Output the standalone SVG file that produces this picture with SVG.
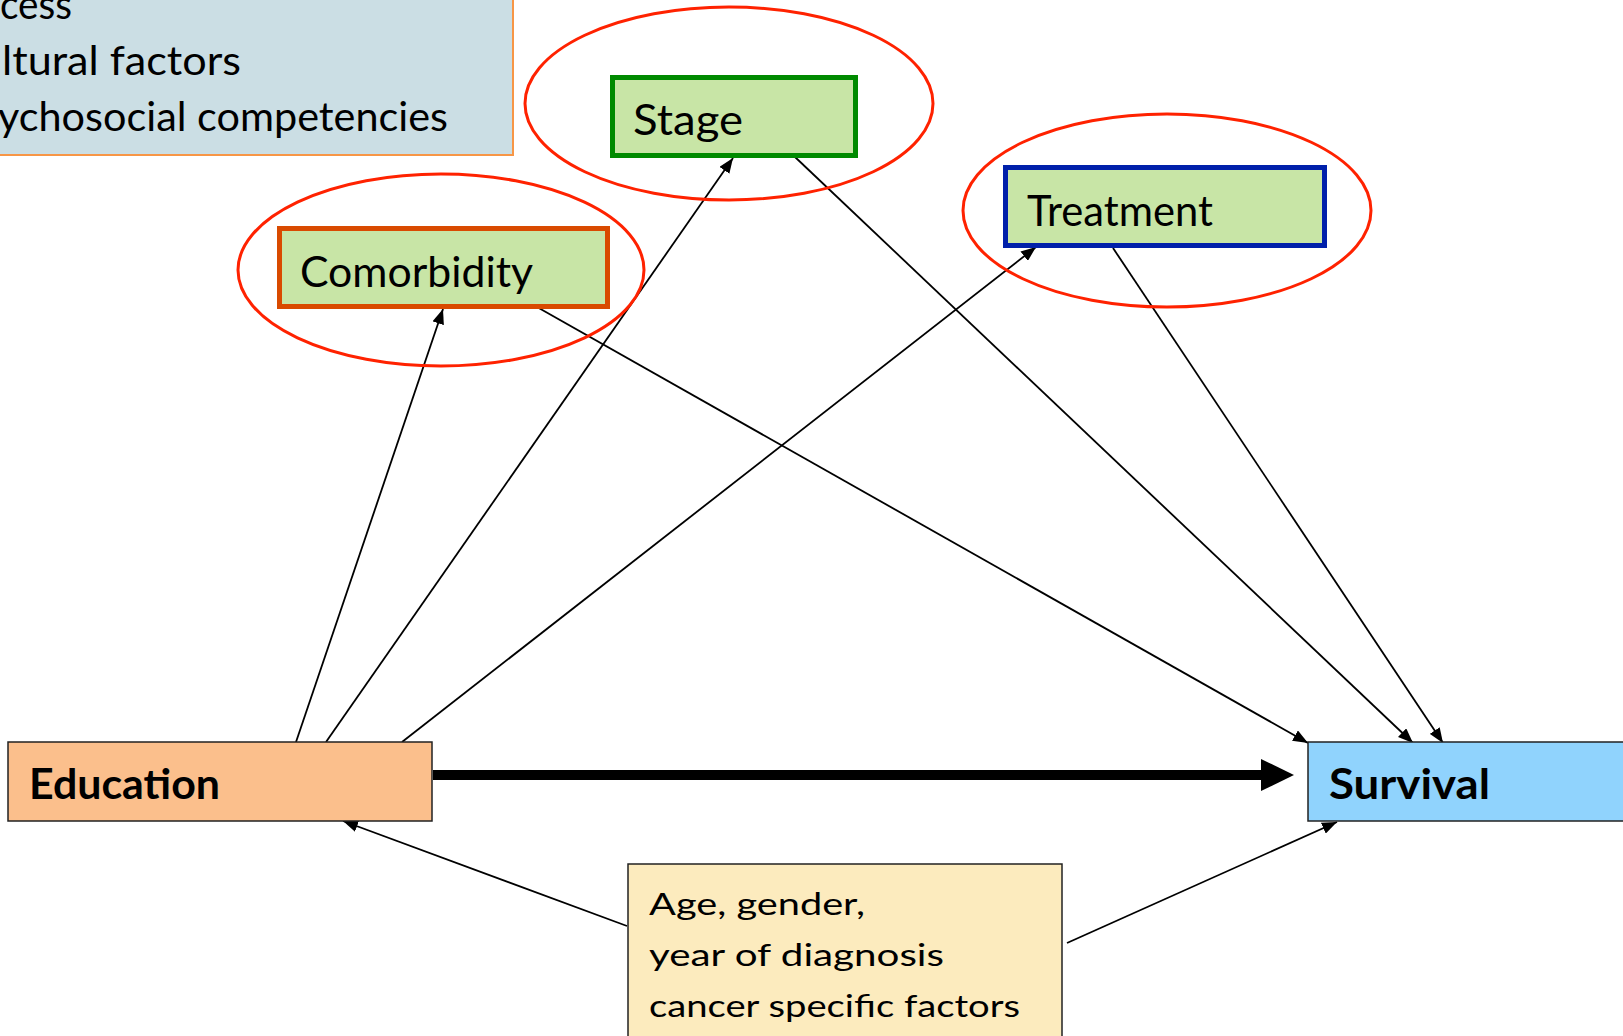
<svg xmlns="http://www.w3.org/2000/svg" width="1623" height="1036" viewBox="0 0 1623 1036">
<style>
.t{font-family:"Lato","Liberation Sans",sans-serif;fill:#000}
.n{font-size:42px}
.b{font-size:42px;font-weight:bold}
.c{font-size:31px}
.l{font-size:40px}
.ell{fill:none;stroke:#FF2200;stroke-width:3}
.box{fill:#C8E5A6;stroke-width:5}
.ln{stroke:#000;stroke-width:1.8;fill:none}
</style>
<defs>
<marker id="ah" markerUnits="userSpaceOnUse" markerWidth="16" markerHeight="12" refX="15" refY="6" orient="auto">
<path d="M0,0 L15,6 L0,12 z" fill="#000"/>
</marker>
<marker id="big" markerUnits="userSpaceOnUse" markerWidth="34" markerHeight="32" refX="1" refY="16" orient="auto">
<path d="M0,0 L33,16 L0,32 z" fill="#000"/>
</marker>
</defs>
<rect width="1623" height="1036" fill="#fff"/>

<g id="legend">
<rect x="-5" y="-5" width="518" height="160" fill="#CBDEE4" stroke="#F79646" stroke-width="2"/>
<text class="t l" x="0" y="19" textLength="72" lengthAdjust="spacingAndGlyphs">cess</text>
<text class="t l" x="2" y="75" textLength="239" lengthAdjust="spacingAndGlyphs">ltural factors</text>
<text class="t l" x="-2" y="131" textLength="450" lengthAdjust="spacingAndGlyphs">ychosocial competencies</text>
</g>

<g id="connectors">
<line class="ln" x1="296" y1="742" x2="443" y2="309" marker-end="url(#ah)"/>
<line class="ln" x1="326" y1="742" x2="733" y2="158" marker-end="url(#ah)"/>
<line class="ln" x1="402" y1="742" x2="1036" y2="247" marker-end="url(#ah)"/>
<line class="ln" x1="537" y1="307" x2="1308" y2="743" marker-end="url(#ah)"/>
<line class="ln" x1="795" y1="157" x2="1413" y2="743" marker-end="url(#ah)"/>
<line class="ln" x1="1113" y1="248" x2="1443" y2="743" marker-end="url(#ah)"/>
<line class="ln" x1="627" y1="926" x2="343" y2="821" marker-end="url(#ah)"/>
<line class="ln" x1="1067" y1="943" x2="1337" y2="822" marker-end="url(#ah)"/>
<line x1="433" y1="775" x2="1262" y2="775" stroke="#000" stroke-width="10" marker-end="url(#big)"/>
</g>

<g id="comorbidity">
<ellipse class="ell" cx="441" cy="270" rx="203" ry="96"/>
<rect class="box" x="279.5" y="228.5" width="328" height="78" stroke="#D94A00"/>
<text class="t n" x="300" y="287" textLength="233" lengthAdjust="spacingAndGlyphs">Comorbidity</text>
</g>

<g id="stage">
<ellipse class="ell" cx="729" cy="103.5" rx="204" ry="96.5"/>
<rect class="box" x="612.5" y="77.5" width="243" height="78" stroke="#008A00"/>
<text class="t n" x="633" y="135" textLength="110" lengthAdjust="spacingAndGlyphs">Stage</text>
</g>

<g id="treatment">
<ellipse class="ell" cx="1167" cy="210.5" rx="204" ry="96.5"/>
<rect class="box" x="1005.5" y="167.5" width="319" height="78" stroke="#0020AA"/>
<text class="t n" x="1027" y="226" textLength="186" lengthAdjust="spacingAndGlyphs">Treatment</text>
</g>

<g id="education">
<rect x="8" y="742" width="424" height="79" fill="#FBBF8C" stroke="#222" stroke-width="1.5"/>
<text class="t b" x="29" y="799" textLength="191" lengthAdjust="spacingAndGlyphs">Education</text>
</g>

<g id="survival">
<rect x="1308" y="742" width="330" height="79" fill="#90D3FD" stroke="#222" stroke-width="1.5"/>
<text class="t b" x="1329" y="799" textLength="161" lengthAdjust="spacingAndGlyphs">Survival</text>
</g>

<g id="confounders">
<rect x="628" y="864" width="434" height="190" fill="#FCEBBE" stroke="#222" stroke-width="1.5"/>
<text class="t c" x="649" y="915" textLength="216" lengthAdjust="spacingAndGlyphs">Age, gender,</text>
<text class="t c" x="649" y="966" textLength="295" lengthAdjust="spacingAndGlyphs">year of diagnosis</text>
<text class="t c" x="649" y="1017" textLength="371" lengthAdjust="spacingAndGlyphs">cancer specific factors</text>
</g>
</svg>
